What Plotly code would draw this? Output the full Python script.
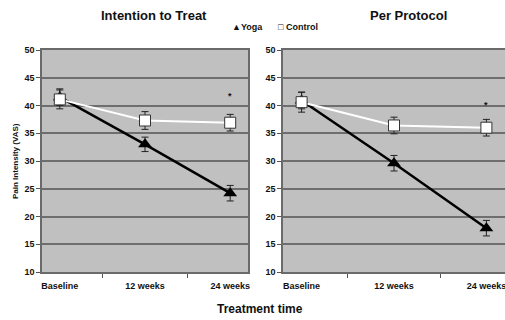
import plotly.graph_objects as go

categories = ["Baseline", "12 weeks", "24 weeks"]

itt_yoga = [41.5, 33.0, 24.2]
itt_yoga_err = [1.5, 1.3, 1.4]
itt_control = [41.1, 37.3, 36.9]
itt_control_err = [1.7, 1.6, 1.5]

pp_yoga = [40.9, 29.6, 17.9]
pp_yoga_err = [1.5, 1.4, 1.4]
pp_control = [40.6, 36.4, 36.0]
pp_control_err = [1.8, 1.5, 1.5]

asterisk_cat = "24 weeks"
itt_asterisk_y = 42.0
pp_asterisk_y = 40.4

panel_titles = ["Intention to Treat", "Per Protocol"]
y_ticks = [10, 15, 20, 25, 30, 35, 40, 45, 50]

FONT = "Liberation Sans, Arial, sans-serif"
W, H = 505, 320

fig = go.Figure()


def add_panel(yoga, yoga_err, ctrl, ctrl_err, xa, ya):
    fig.add_trace(go.Scatter(
        x=categories, y=yoga, xaxis=xa, yaxis=ya, mode="lines+markers",
        line=dict(color="black", width=2.5),
        marker=dict(symbol="triangle-up", size=12, color="black"),
        error_y=dict(type="data", array=yoga_err, color="#222222", thickness=1, width=3.5),
        showlegend=False, name="Yoga"))
    fig.add_trace(go.Scatter(
        x=categories, y=ctrl, xaxis=xa, yaxis=ya, mode="lines+markers",
        line=dict(color="white", width=2),
        marker=dict(symbol="square", size=11, color="white", line=dict(color="#333333", width=1)),
        error_y=dict(type="data", array=ctrl_err, color="#222222", thickness=1, width=3.5),
        showlegend=False, name="Control"))


add_panel(itt_yoga, itt_yoga_err, itt_control, itt_control_err, "x", "y")
add_panel(pp_yoga, pp_yoga_err, pp_control, pp_control_err, "x2", "y2")

tickfont = dict(family=FONT, size=9, color="#111111", weight="bold")
axis_common = dict(showline=True, linecolor="#6a6a6a", linewidth=1.5, mirror=True,
                   ticks="outside", ticklen=4, tickcolor="#555555", tickfont=tickfont)

ydom = [1 - 272 / H, 1 - 50 / H]
fig.update_layout(
    width=W, height=H,
    margin=dict(l=0, r=0, t=0, b=0, autoexpand=False),
    paper_bgcolor="white", plot_bgcolor="#c0c0c0",
    font=dict(family=FONT, color="#111111"),
    xaxis=dict(domain=[42 / W, 248 / W], type="category", tickson="boundaries",
               showgrid=False, ticklabelstandoff=4, anchor="y", **axis_common),
    yaxis=dict(domain=ydom, range=[10, 50], tickvals=y_ticks, showgrid=True,
               gridcolor="#6e6e6e", gridwidth=1.8, zeroline=False, anchor="x", **axis_common),
    xaxis2=dict(domain=[283 / W, 1.0], type="category", tickson="boundaries",
                showgrid=False, ticklabelstandoff=4, anchor="y2", **axis_common),
    yaxis2=dict(domain=ydom, range=[10, 50], tickvals=y_ticks, showgrid=True,
                gridcolor="#6e6e6e", gridwidth=1.8, zeroline=False, anchor="x2", **axis_common),
)


def f(size):
    return dict(family=FONT, size=size, color="#111111")


def pann(text, px, py, size, **kw):
    d = dict(text=text, x=px / W, y=1 - py / H, xref="paper", yref="paper",
             xanchor="center", yanchor="middle", showarrow=False, font=f(size))
    d.update(kw)
    return d


anns = [
    pann("<b>" + panel_titles[0] + "</b>", 154, 15, 13),
    pann("<b>" + panel_titles[1] + "</b>", 408, 15, 13),
    pann("<b>▲Yoga</b>", 230, 27, 9, xanchor="left"),
    pann("<b>□ Control</b>", 276, 27, 9, xanchor="left"),
    pann("<b>Pain Intensity (VAS)</b>", 15, 161, 8, textangle=-90),
    pann("<b>Treatment time</b>", 260, 309, 12),
    dict(text="<b>*</b>", x=asterisk_cat, y=itt_asterisk_y, xref="x", yref="y",
         showarrow=False, font=f(9), yshift=-2),
    dict(text="<b>*</b>", x=asterisk_cat, y=pp_asterisk_y, xref="x2", yref="y2",
         showarrow=False, font=f(9), yshift=-2),
]
fig.update_layout(annotations=anns)

fig.write_html("out.html", config={"displayModeBar": False},
               post_script="document.body.style.margin='0';document.body.style.overflow='hidden';")
